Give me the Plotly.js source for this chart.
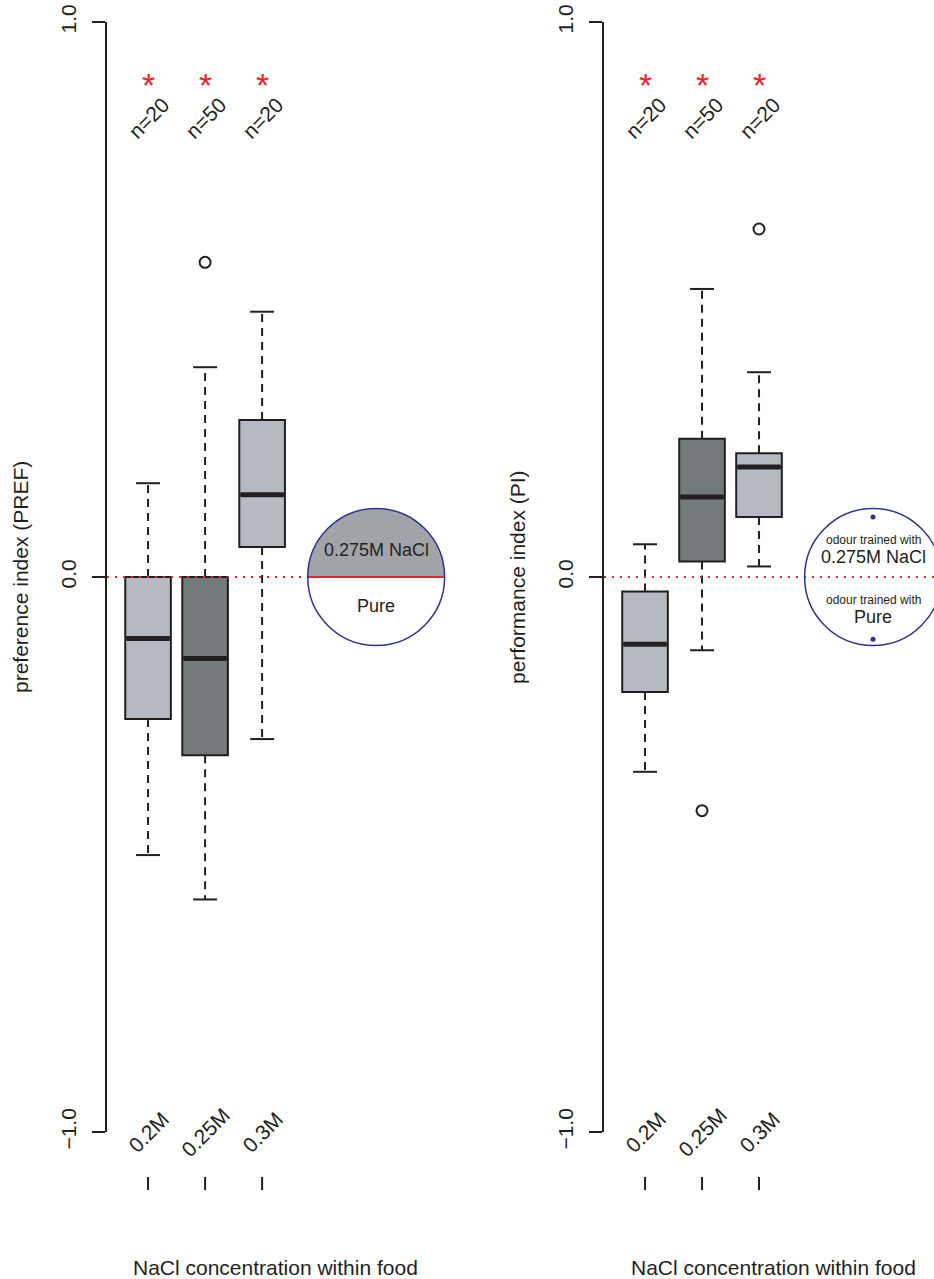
<!DOCTYPE html>
<html>
<head>
<meta charset="utf-8">
<script src="https://cdn.plot.ly/plotly-3.0.1.min.js"></script>
<style>html,body{margin:0;padding:0;background:#fff;}#chart{width:934px;height:1279px;}</style>
</head>
<body>
<div id="chart"></div>
<script>
// ---------- data ----------
const positions = [1, 2, 3];
const concLabels = ['0.2M', '0.25M', '0.3M'];
const nLabels = ['n=20', 'n=50', 'n=20'];
const sigMarks = ['*', '*', '*'];

// preference index (PREF)
const prefQ1 = [-0.256, -0.321, 0.054];
const prefMedian = [-0.111, -0.147, 0.148];
const prefQ3 = [0.0, 0.0, 0.283];
const prefLower = [-0.501, -0.581, -0.292];
const prefUpper = [0.169, 0.378, 0.478];
const prefOutX = [2];
const prefOutY = [0.567];

// performance index (PI)
const piQ1 = [-0.207, 0.028, 0.108];
const piMedian = [-0.121, 0.144, 0.198];
const piQ3 = [-0.026, 0.249, 0.223];
const piLower = [-0.351, -0.132, 0.019];
const piUpper = [0.059, 0.519, 0.369];
const piOutX = [2, 3];
const piOutY = [-0.421, 0.627];

const yTickVals = [-1, 0, 1];
const yTickText = ['\u22121.0', '0.0', '1.0'];

// ---------- styles ----------
const FONT = 'Liberation Sans, Arial, Helvetica, sans-serif';
const INK = '#231f20';
const RED = '#e8242b';
const BLUE = '#2e3192';
const LIGHT = '#b4bac0';
const DARK = '#737a7c';
const boxColors = [LIGHT, DARK, LIGHT];
const BOXW = 0.8, CAPW = 0.21;

function panelTraces(xa, ya, q1, med, q3, lo, hi, outX, outY) {
  const tr = [];
  positions.forEach((p, i) => {
    tr.push({
      type: 'box', xaxis: xa, yaxis: ya, x: [p],
      q1: [q1[i]], median: [med[i]], q3: [q3[i]],
      lowerfence: [q1[i]], upperfence: [q3[i]],
      width: BOXW, whiskerwidth: 0, boxpoints: false,
      fillcolor: boxColors[i], line: {color: INK, width: 2},
      hoverinfo: 'skip', showlegend: false
    });
  });
  // dashed whiskers
  const wx = [], wy = [];
  positions.forEach((p, i) => {
    wx.push(p, p, null, p, p, null);
    wy.push(q3[i], hi[i], null, q1[i], lo[i], null);
  });
  tr.push({type: 'scatter', mode: 'lines', xaxis: xa, yaxis: ya, x: wx, y: wy,
    line: {color: INK, width: 2, dash: '8px,6px'}, hoverinfo: 'skip', showlegend: false});
  // staples
  const cx = [], cy = [];
  positions.forEach((p, i) => {
    cx.push(p - CAPW, p + CAPW, null, p - CAPW, p + CAPW, null);
    cy.push(hi[i], hi[i], null, lo[i], lo[i], null);
  });
  tr.push({type: 'scatter', mode: 'lines', xaxis: xa, yaxis: ya, x: cx, y: cy,
    line: {color: INK, width: 2}, hoverinfo: 'skip', showlegend: false});
  // thick medians
  const mx = [], my = [];
  positions.forEach((p, i) => {
    mx.push(p - BOXW / 2 + 0.02, p + BOXW / 2 - 0.02, null);
    my.push(med[i], med[i], null);
  });
  tr.push({type: 'scatter', mode: 'lines', xaxis: xa, yaxis: ya, x: mx, y: my,
    line: {color: INK, width: 5}, hoverinfo: 'skip', showlegend: false});
  // outliers
  tr.push({type: 'scatter', mode: 'markers', xaxis: xa, yaxis: ya, x: outX, y: outY,
    marker: {symbol: 'circle-open', size: 11, color: INK, line: {width: 2, color: INK}},
    hoverinfo: 'skip', showlegend: false});
  return tr;
}

const data = [].concat(
  panelTraces('x', 'y', prefQ1, prefMedian, prefQ3, prefLower, prefUpper, prefOutX, prefOutY),
  panelTraces('x2', 'y2', piQ1, piMedian, piQ3, piLower, piUpper, piOutX, piOutY)
);

function xax(domain, range) {
  return {domain: domain, range: range, visible: false, showgrid: false, zeroline: false, fixedrange: true};
}
function yax(anchor) {
  return {anchor: anchor, range: [-1, 1], domain: [0, 1], showgrid: false, zeroline: false,
    showline: true, linewidth: 2, linecolor: INK, ticks: 'outside', ticklen: 13, tickwidth: 2,
    tickcolor: INK, tickvals: yTickVals, ticktext: yTickText, tickangle: -90,
    ticklabelstandoff: 8,
    tickfont: {family: FONT, size: 21, color: INK}, fixedrange: true};
}

const annotations = [];
const shapes = [];
const CX = 5.0, RX = 1.2, RY = 0.1234;
[['x', 'y'], ['x2', 'y2']].forEach(([xa, ya]) => {
  positions.forEach((p, i) => {
    annotations.push({xref: xa, yref: ya, x: p, y: 0.887, text: sigMarks[i], showarrow: false,
      font: {family: FONT, size: 34, color: RED}, xanchor: 'center', yanchor: 'middle'});
    annotations.push({xref: xa, yref: ya, x: p, y: 0.827, text: nLabels[i], showarrow: false,
      textangle: -45, font: {family: FONT, size: 21, color: INK}, xanchor: 'center', yanchor: 'middle'});
    annotations.push({xref: xa, yref: 'paper', x: p, y: 0, text: concLabels[i], showarrow: false,
      textangle: -45, font: {family: FONT, size: 21, color: INK}, xanchor: 'center', yanchor: 'middle'});
    // small tick remnants under each label
    shapes.push({type: 'line', xref: xa, yref: 'paper', x0: p, x1: p, y0: -0.0405, y1: -0.0523,
      line: {color: INK, width: 2}});
  });
});
// axis titles
annotations.push({xref: 'paper', yref: 'paper', x: 20 / 934, y: 0.5, text: 'preference index (PREF)',
  textangle: -90, showarrow: false, font: {family: FONT, size: 21, color: INK}, xanchor: 'center', yanchor: 'middle'});
annotations.push({xref: 'paper', yref: 'paper', x: 517 / 934, y: 0.5, text: 'performance index (PI)',
  textangle: -90, showarrow: false, font: {family: FONT, size: 21, color: INK}, xanchor: 'center', yanchor: 'middle'});
annotations.push({xref: 'paper', yref: 'paper', x: 275.5 / 934, y: -0.1225, text: 'NaCl concentration within food',
  showarrow: false, font: {family: FONT, size: 21, color: INK}, xanchor: 'center', yanchor: 'middle'});
annotations.push({xref: 'paper', yref: 'paper', x: 773 / 934, y: -0.1225, text: 'NaCl concentration within food',
  showarrow: false, font: {family: FONT, size: 21, color: INK}, xanchor: 'center', yanchor: 'middle'});
// circle legends
annotations.push({xref: 'x', yref: 'y', x: CX, y: 0.048, text: '0.275M NaCl', showarrow: false,
  font: {family: FONT, size: 18, color: INK}});
annotations.push({xref: 'x', yref: 'y', x: CX, y: -0.052, text: 'Pure', showarrow: false,
  font: {family: FONT, size: 18, color: INK}});
annotations.push({xref: 'x2', yref: 'y2', x: CX, y: 0.0667, text: 'odour trained with', showarrow: false,
  font: {family: FONT, size: 12, color: INK}});
annotations.push({xref: 'x2', yref: 'y2', x: CX, y: 0.036, text: '0.275M NaCl', showarrow: false,
  font: {family: FONT, size: 18, color: INK}});
annotations.push({xref: 'x2', yref: 'y2', x: CX, y: -0.0414, text: 'odour trained with', showarrow: false,
  font: {family: FONT, size: 12, color: INK}});
annotations.push({xref: 'x2', yref: 'y2', x: CX, y: -0.072, text: 'Pure', showarrow: false,
  font: {family: FONT, size: 18, color: INK}});

const k = 0.5523;
const halfPath = `M ${CX - RX},0 C ${CX - RX},${k * RY} ${CX - k * RX},${RY} ${CX},${RY} ` +
  `C ${CX + k * RX},${RY} ${CX + RX},${k * RY} ${CX + RX},0 Z`;

shapes.push(
  // dotted zero lines
  {type: 'line', xref: 'x', yref: 'y', x0: 0.28, x1: CX - RX, y0: 0, y1: 0, layer: 'above',
    line: {color: RED, width: 2, dash: '2px,6px'}},
  {type: 'line', xref: 'x2', yref: 'y2', x0: 0.28, x1: 6.07, y0: 0, y1: 0, layer: 'above',
    line: {color: RED, width: 2, dash: '2px,6px'}},
  // left legend circle
  {type: 'path', xref: 'x', yref: 'y', path: halfPath, fillcolor: '#a0a4a9', line: {width: 0}, layer: 'below'},
  {type: 'line', xref: 'x', yref: 'y', x0: CX - RX, x1: CX + RX, y0: 0, y1: 0, line: {color: RED, width: 2}},
  {type: 'circle', xref: 'x', yref: 'y', x0: CX - RX, x1: CX + RX, y0: -RY, y1: RY,
    line: {color: BLUE, width: 1.5}},
  // right legend circle
  {type: 'circle', xref: 'x2', yref: 'y2', x0: CX - RX, x1: CX + RX, y0: -RY, y1: RY,
    line: {color: BLUE, width: 1.5}},
  {type: 'circle', xref: 'x2', yref: 'y2', xsizemode: 'pixel', ysizemode: 'pixel', xanchor: CX, yanchor: 0.108,
    x0: -2.5, x1: 2.5, y0: -2.5, y1: 2.5, fillcolor: BLUE, line: {width: 0}},
  {type: 'circle', xref: 'x2', yref: 'y2', xsizemode: 'pixel', ysizemode: 'pixel', xanchor: CX, yanchor: -0.112,
    x0: -2.5, x1: 2.5, y0: -2.5, y1: 2.5, fillcolor: BLUE, line: {width: 0}}
);

const layout = {
  width: 934, height: 1279,
  margin: {l: 0, r: 0, t: 22, b: 147},
  paper_bgcolor: '#ffffff', plot_bgcolor: 'rgba(0,0,0,0)',
  showlegend: false,
  font: {family: FONT, color: INK},
  xaxis: xax([107 / 934, 460 / 934], [0.28, 6.47]),
  yaxis: yax('x'),
  xaxis2: xax([604 / 934, 1], [0.28, 6.07]),
  yaxis2: yax('x2'),
  annotations: annotations,
  shapes: shapes
};

Plotly.newPlot('chart', data, layout, {staticPlot: true, displayModeBar: false});
</script>
</body>
</html>
